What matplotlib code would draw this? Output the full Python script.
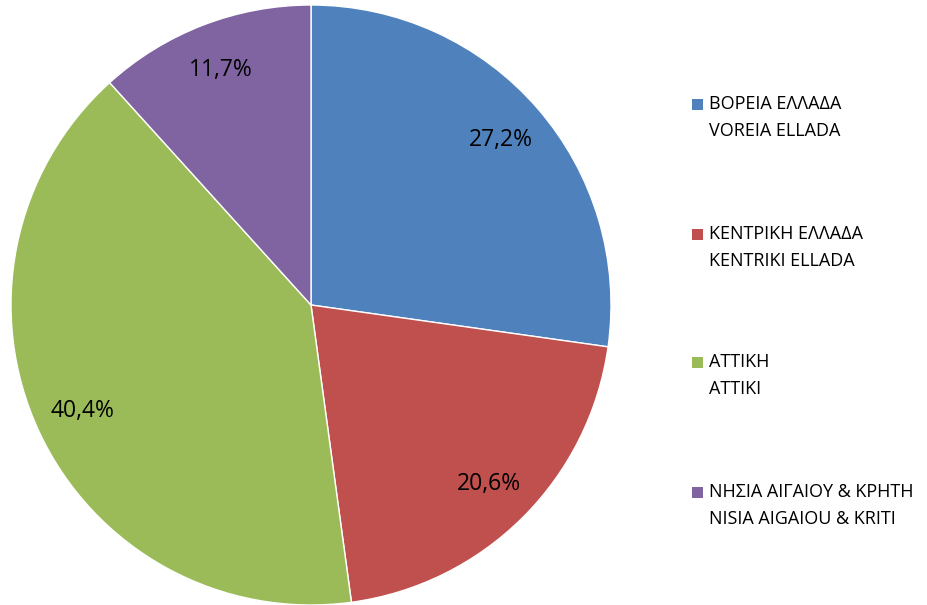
import matplotlib.pyplot as plt
from matplotlib.patches import Rectangle

# regions of Greece, shares in %
labels_gr = ['ΒΟΡΕΙΑ ΕΛΛΑΔΑ', 'ΚΕΝΤΡΙΚΗ ΕΛΛΑΔΑ', 'ΑΤΤΙΚΗ', 'ΝΗΣΙΑ ΑΙΓΑΙΟΥ & ΚΡΗΤΗ']
labels_lat = ['VOREIA ELLADA', 'KENTRIKI ELLADA', 'ATTIKI', 'NISIA AIGAIOU & KRITI']
shares = [27.2, 20.6, 40.4, 11.7]
colors = ['#4F81BD', '#C0504D', '#9BBB59', '#8064A2']

plt.rcParams['font.family'] = ['Open Sans', 'DejaVu Sans']

fig = plt.figure(figsize=(9.27, 6.05), dpi=100)
ax = fig.add_axes([11 / 927, 0 / 605, 600 / 927, 600 / 605])

wedges, texts, autotexts = ax.pie(
    shares, colors=colors, startangle=90, counterclock=False,
    autopct=lambda p: f'{p:.1f}'.replace('.', ',') + '%',
    pctdistance=0.84, radius=1,
    wedgeprops=dict(edgecolor='white', linewidth=1),
    textprops=dict(fontsize=16.5, color='black'))
ax.set_xlim(-1, 1)
ax.set_ylim(-1, 1)
ax.set_aspect('equal')
ax.axis('off')

# legend drawn by hand: square next to first line, second line below
W, H = 927, 605
ys = [104, 234, 362, 492]
for i, y in enumerate(ys):
    fig.patches.append(Rectangle((692 / W, 1 - (y + 6) / H), 11 / W, 11 / H,
                                 transform=fig.transFigure, facecolor=colors[i],
                                 edgecolor='none'))
    fig.text(709 / W, 1 - y / H, labels_gr[i], fontsize=13, va='center', ha='left')
    fig.text(709 / W, 1 - (y + 27) / H, labels_lat[i], fontsize=13, va='center', ha='left')

fig.savefig('out.png', dpi=100)
